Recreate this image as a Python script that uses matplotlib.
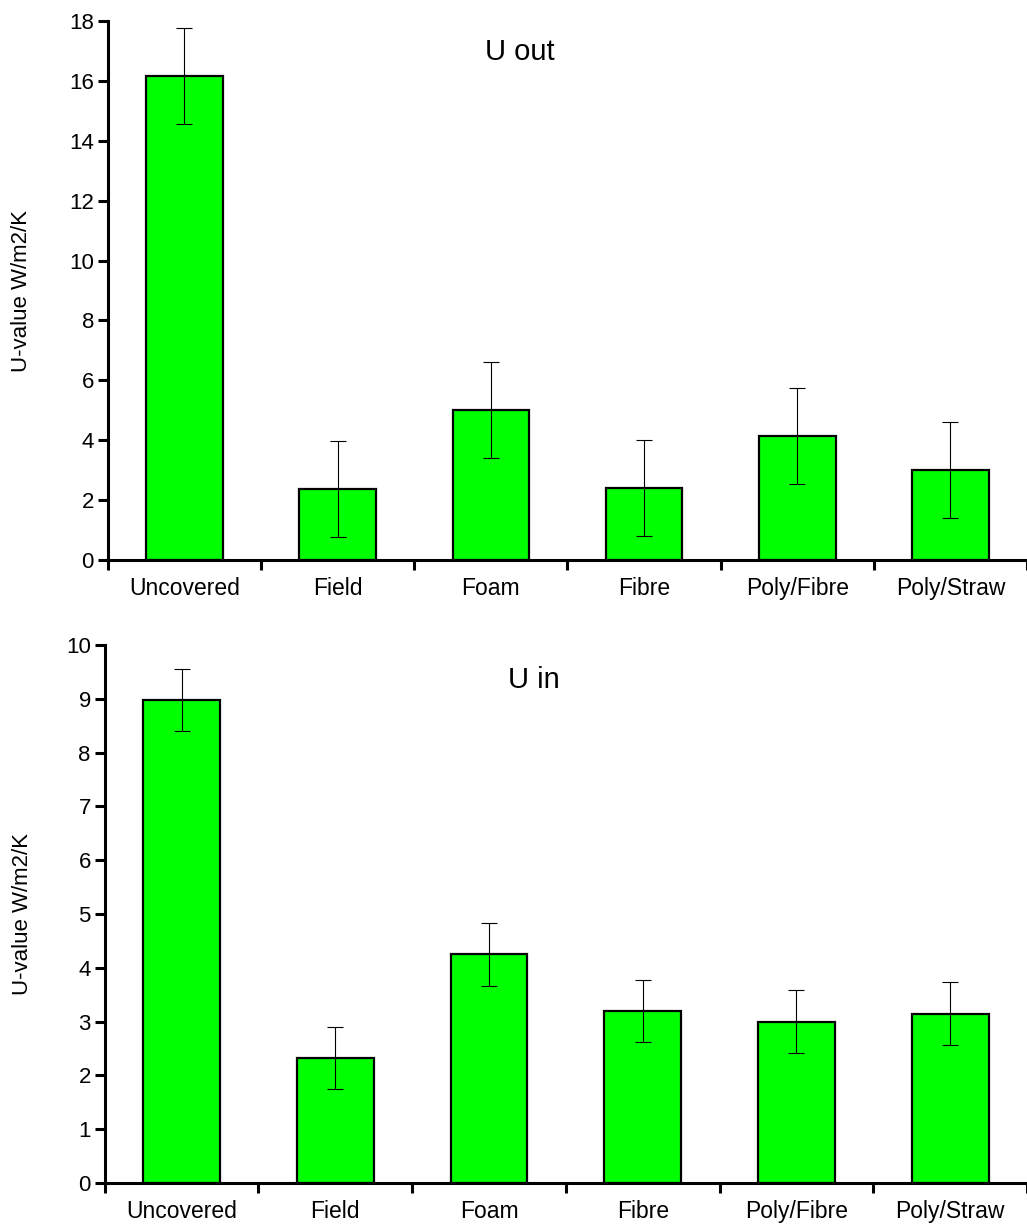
import matplotlib
matplotlib.use("Agg")
import matplotlib.pyplot as plt
import numpy as np

plt.rcParams["font.family"] = ["Liberation Sans", "DejaVu Sans"]

categories = ["Uncovered", "Field", "Foam", "Fibre", "Poly/Fibre", "Poly/Straw"]
u_out = [16.17, 2.37, 5.02, 2.42, 4.15, 3.02]
u_out_err = [1.6, 1.6, 1.6, 1.6, 1.6, 1.6]
u_in = [8.98, 2.32, 4.25, 3.20, 3.00, 3.15]
u_in_err = [0.58, 0.58, 0.58, 0.58, 0.58, 0.58]

GREEN = "#00ff00"


def draw_panel(ax, values, errors, ymax, ystep, title, title_xy, label_x):
    n = len(categories)
    x = np.arange(n) + 0.5
    ax.bar(x, values, width=0.5, color=GREEN, edgecolor="black", linewidth=1.6, zorder=2)
    ax.errorbar(x, values, yerr=errors, fmt="none", ecolor="black",
                elinewidth=0.8, capsize=6, capthick=0.8, zorder=3)

    ax.set_xlim(0, 5.96)
    ax.set_ylim(0, ymax)
    ax.set_yticks(np.arange(0, ymax + ystep / 2, ystep))
    ax.set_xticks(np.arange(0, n + 1))
    ax.set_xticklabels([])
    ax.set_xticks(x, minor=True)
    ax.set_xticklabels(categories, minor=True)

    for side in ("top", "right"):
        ax.spines[side].set_visible(False)
    for side in ("left", "bottom"):
        ax.spines[side].set_linewidth(2.2)
    ax.spines["left"].set_bounds(0, ymax)

    ax.tick_params(axis="y", which="major", direction="out", length=7, width=2.2,
                   labelsize=16, pad=3)
    ax.tick_params(axis="x", which="major", direction="out", length=7, width=2.2)
    ax.tick_params(axis="x", which="minor", length=0, labelsize=16.5, pad=12)

    ax.set_ylabel("U-value W/m2/K", fontsize=16)
    ax.yaxis.set_label_coords(label_x, 0.5)
    ax.text(title_xy[0], title_xy[1], title, transform=ax.transAxes,
            fontsize=21, ha="center", va="center")


fig = plt.figure(figsize=(10.27, 12.31), dpi=100)
ax_top = fig.add_axes([0.105, 0.545, 0.895, 0.438])
ax_bot = fig.add_axes([0.102, 0.039, 0.898, 0.437])

draw_panel(ax_top, u_out, u_out_err, 18, 2, "U out", (0.448, 0.942), -0.082)
draw_panel(ax_bot, u_in, u_in_err, 10, 1, "U in", (0.465, 0.935), -0.078)

fig.savefig("out.png", dpi=100)
